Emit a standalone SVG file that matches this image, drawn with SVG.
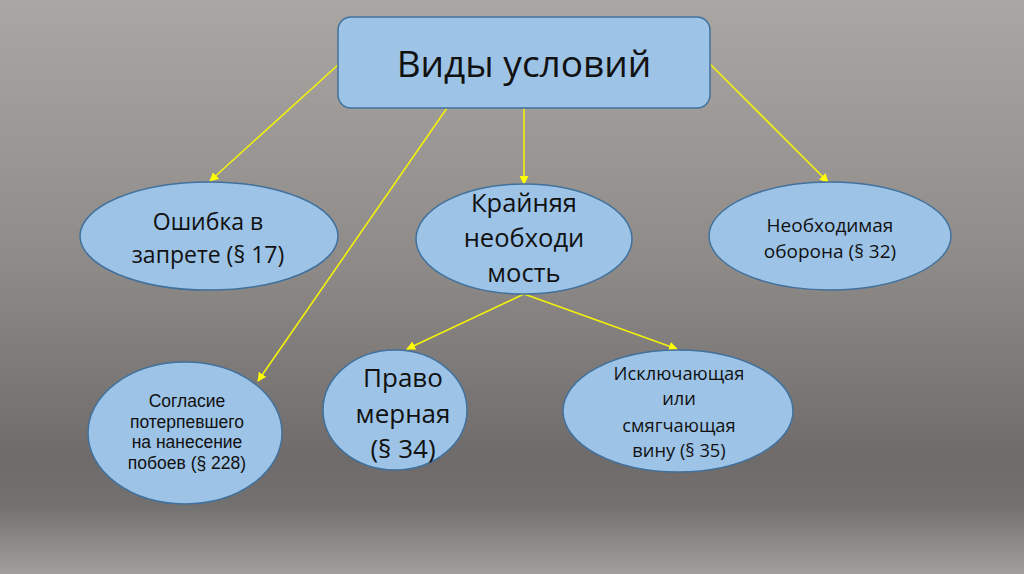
<svg xmlns="http://www.w3.org/2000/svg" width="1024" height="574" viewBox="0 0 1024 574">
<defs>
<linearGradient id="bg" x1="0" y1="0" x2="0" y2="1">
<stop offset="0" stop-color="#aaa6a4"/>
<stop offset="0.45" stop-color="#8f8b89"/>
<stop offset="0.8" stop-color="#6f6b6a"/>
<stop offset="0.88" stop-color="#737070"/>
<stop offset="1" stop-color="#a29e9d"/>
</linearGradient>
<marker id="ah" viewBox="0 0 10 10" refX="9" refY="5" markerWidth="9" markerHeight="9" markerUnits="userSpaceOnUse" orient="auto">
<path d="M0,0 L10,5 L0,10 z" fill="#ffff00"/>
</marker>
<style>
.n{fill:#9dc3e6;stroke:#41719c;stroke-width:1.5}
.t{font-family:"Open Sans","Liberation Sans",sans-serif;fill:#111;text-anchor:middle}
.s{font-family:"Liberation Sans","Open Sans",sans-serif;fill:#111;text-anchor:middle}
.c{stroke:#f2f20a;stroke-width:1.6;fill:none;marker-end:url(#ah)}
</style>
</defs>
<rect width="1024" height="574" fill="url(#bg)"/>
<g id="connectors">
<line class="c" x1="339" y1="64" x2="210" y2="181"/>
<line class="c" x1="447" y1="108" x2="258" y2="381"/>
<line class="c" x1="524" y1="108" x2="524" y2="184"/>
<line class="c" x1="710" y1="64" x2="828" y2="182"/>
<line class="c" x1="524" y1="294" x2="407" y2="349"/>
<line class="c" x1="524" y1="294" x2="677" y2="349"/>
</g>
<g id="root">
<rect class="n" x="338" y="17" width="372" height="91" rx="13"/>
<text class="t" x="524" y="77" font-size="37">Виды условий</text>
</g>
<g id="n1">
<ellipse class="n" cx="209" cy="236" rx="129" ry="54"/>
<text class="t" x="208" y="230" font-size="23">Ошибка в</text>
<text class="t" x="208" y="263" font-size="23">запрете (§ 17)</text>
</g>
<g id="n2">
<ellipse class="n" cx="524" cy="239" rx="108" ry="55"/>
<text class="t" x="524" y="212" font-size="25.5">Крайняя</text>
<text class="t" x="524" y="247" font-size="25.5">необходи</text>
<text class="t" x="524" y="282" font-size="25.5">мость</text>
</g>
<g id="n3">
<ellipse class="n" cx="830" cy="236" rx="121" ry="54"/>
<text class="t" x="830" y="232" font-size="19">Необходимая</text>
<text class="t" x="830" y="258" font-size="19">оборона (§ 32)</text>
</g>
<g id="n4">
<ellipse class="n" cx="185" cy="433" rx="97" ry="71"/>
<text class="s" x="187" y="407" font-size="17.5">Согласие</text>
<text class="s" x="187" y="427.5" font-size="17.5">потерпевшего</text>
<text class="s" x="187" y="448" font-size="17.5">на нанесение</text>
<text class="s" x="187" y="469" font-size="17.5">побоев (§ 228)</text>
</g>
<g id="n5">
<ellipse class="n" cx="395" cy="410" rx="72" ry="60"/>
<text class="t" x="403" y="387" font-size="26">Право</text>
<text class="t" x="403" y="423" font-size="26">мерная</text>
<text class="t" x="403" y="458" font-size="26">(§ 34)</text>
</g>
<g id="n6">
<ellipse class="n" cx="678" cy="411" rx="115" ry="61"/>
<text class="t" x="679" y="380" font-size="18.3">Исключающая</text>
<text class="t" x="679" y="405" font-size="18.3">или</text>
<text class="t" x="679" y="432" font-size="18.3">смягчающая</text>
<text class="t" x="679" y="457" font-size="18.3">вину (§ 35)</text>
</g>
</svg>
